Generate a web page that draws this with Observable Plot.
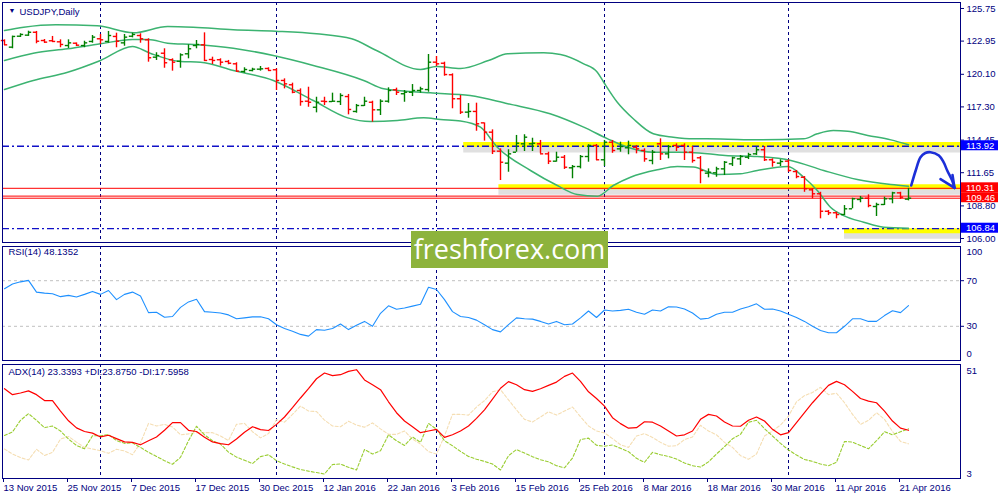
<!DOCTYPE html>
<html>
<head>
<meta charset="utf-8">
<script src="https://cdn.jsdelivr.net/npm/d3@7"></script>
<script src="https://cdn.jsdelivr.net/npm/@observablehq/plot@0.6"></script>
<style>
  body { margin: 0; background: #fff; }
  #chart { position: relative; width: 1000px; height: 500px; overflow: hidden; }
  #chart svg { position: absolute; left: 0; }
  .wm {
    position: absolute; left: 411px; top: 231px; width: 197px; height: 37px;
    background: #8db33c; color: #fff; text-align: center;
    font: 27px/36px "Open Sans", sans-serif;
  }
</style>
</head>
<body>
<div id="chart"></div>
<script>
// daily bars, 13 Nov 2015 .. 22 Apr 2016 (bar index 0..113)
var opens = [123.00,122.43,123.37,123.46,123.71,123.00,122.98,122.89,122.57,122.77,122.57,122.92,123.15,122.92,123.35,122.80,123.37,123.43,123.06,121.57,
  121.91,121.35,121.22,121.86,122.57,122.63,121.37,121.35,121.20,121.00,120.34,120.43,120.54,120.60,120.49,119.57,119.20,118.71,117.79,117.27,
  117.79,117.76,117.76,118.19,116.91,117.42,117.70,117.05,117.79,118.77,118.43,118.56,118.71,118.79,121.14,121.05,120.06,118.00,116.85,116.91,
  115.93,115.13,113.50,112.47,113.41,114.13,114.13,114.13,113.27,112.64,112.98,112.07,112.18,113.04,113.99,112.76,114.27,113.70,113.79,113.84,
  113.56,112.70,114.13,113.27,113.99,113.99,113.41,112.93,111.61,111.64,111.98,112.41,112.84,112.98,113.27,113.62,112.76,112.47,112.64,111.75,
  111.26,110.18,109.84,108.34,108.21,108.06,108.55,109.35,109.46,108.75,108.92,109.41,109.92,109.38];
var highs = [123.06,123.37,123.58,123.80,123.78,123.09,123.35,123.06,123.06,122.80,122.94,123.43,123.52,123.78,123.63,123.52,123.63,123.58,123.15,121.95,
  122.29,121.43,121.86,122.63,123.00,123.66,121.57,121.43,121.29,121.09,120.66,120.62,120.77,120.66,120.57,119.71,119.34,118.85,118.99,118.13,
  118.13,118.48,118.43,118.37,117.51,118.13,117.79,117.91,118.94,118.91,118.71,119.22,118.99,121.80,121.63,121.14,120.14,118.28,117.59,117.62,
  115.93,115.33,113.70,113.62,114.85,114.91,114.61,114.42,113.41,113.41,113.13,112.27,113.13,114.05,114.07,114.42,114.42,114.27,114.36,113.99,
  113.70,113.56,114.56,113.99,114.13,114.13,113.90,113.04,111.98,112.12,112.61,112.98,113.13,113.32,113.84,113.90,112.84,112.76,112.76,111.84,
  111.32,110.27,109.97,108.40,108.26,108.83,109.46,109.61,109.75,109.03,109.55,109.97,109.97,110.31];
var lows = [122.57,122.29,123.26,123.35,122.72,122.77,122.86,122.38,122.32,122.49,122.38,122.77,122.66,122.77,122.38,122.51,123.23,122.77,121.14,121.29,
  120.62,120.37,120.62,121.43,122.29,121.20,120.94,120.80,120.92,120.28,120.19,120.31,120.37,120.37,118.71,118.85,118.43,117.36,117.27,116.79,
  117.42,117.70,117.42,116.62,116.76,117.33,115.99,116.56,117.62,118.28,117.70,118.19,118.48,118.56,120.77,119.94,117.14,116.65,116.33,115.21,
  114.36,113.21,110.98,111.69,113.41,113.47,113.47,113.27,112.35,112.55,111.93,111.13,111.98,112.55,112.70,112.18,113.32,113.41,113.19,113.27,
  112.55,112.33,112.70,112.84,113.47,112.70,112.47,110.70,111.21,111.26,111.41,112.18,112.27,112.78,113.13,112.61,112.12,112.18,111.69,111.13,
  109.97,109.41,107.69,107.97,107.69,107.97,108.55,109.07,108.64,107.89,108.83,108.98,109.35,109.23];
var closes = [122.63,123.35,123.52,123.71,122.94,122.86,122.92,122.66,122.80,122.60,122.80,123.29,123.06,123.43,122.94,123.29,123.52,123.15,121.52,121.71,
  121.09,121.14,121.77,122.29,122.66,121.29,121.29,121.14,121.05,120.37,120.51,120.54,120.57,120.43,119.57,119.28,118.56,117.76,117.70,117.70,
  117.76,117.79,118.28,117.08,117.42,117.79,117.05,117.79,118.71,118.56,118.56,118.71,118.85,121.14,121.00,120.08,118.00,116.85,116.91,115.85,
  115.13,113.50,112.55,113.27,114.18,114.70,114.18,113.27,112.64,112.98,112.12,112.18,113.04,113.99,112.76,114.27,113.56,113.90,113.99,113.70,
  112.84,113.41,113.27,113.90,113.84,113.41,112.70,111.84,111.69,111.98,112.55,112.93,113.04,113.21,113.62,112.76,112.55,112.61,111.84,111.32,
  110.27,109.84,108.34,108.21,108.06,108.55,109.41,109.46,108.83,108.92,109.41,109.92,109.55,109.46];

// Bollinger bands (20) at these bar positions
var upperIdx = [0,2.4,6.4,11.6,16.1,20.4,23.6,28.6,33.9,39,43.4,46.5,52,54,57,60.5,62.9,67.4,69.5,72.4,74.1,74.9,76.6,78.6,81.1,83.6,86.1,89.5,94.1,99.9,101.6,103.6,105.4,107.9,110.8,113];
var upperVal = [123.86,124.14,124.35,124.26,123.66,124.20,124.14,123.92,123.80,123.58,123.15,122.14,120.51,120.77,120.60,121.28,121.86,121.95,121.80,121.00,120.28,119.42,117.70,116.28,114.99,114.70,114.56,114.55,114.47,114.56,114.99,115.27,115.21,114.85,114.47,114.05];
var midIdx = [0,3.6,7.9,12,16,18,20.4,23.6,28.6,33.6,38.6,44.9,47.4,53.2,58.2,62.9,68.2,72.4,75.4,77.9,81.1,85.8,90.1,94.1,98.3,102.4,106.6,110.8,113];
var midVal = [121.29,121.91,122.29,122.72,123.09,123.09,122.77,122.66,122.34,121.71,120.86,119.57,118.85,118.51,118.28,117.57,116.71,115.56,114.56,113.84,113.41,113.39,113.13,113.04,112.70,111.84,111.07,110.64,110.49];
var lowerIdx = [0,3.6,7.9,12,16,18.2,22,24.5,28.6,33.6,38.6,42.9,45.75,49.1,52.4,54.5,57,59.5,61.6,65.75,69.1,71.6,74.1,76.1,78.25,81.6,84.1,86.1,89.1,92,94.1,97.9,99.9,101.6,103.25,104.9,107.4,109.9,113];
var lowerVal = [118.79,119.57,120.28,121.29,122.49,121.91,121.20,121.14,120.43,119.57,117.85,116.36,116.05,116.13,116.36,116.22,116.09,115.56,113.84,111.84,110.55,109.78,109.63,110.55,111.26,111.90,112.18,112.14,111.50,111.56,111.84,112.18,111.26,110.12,108.69,107.97,107.40,106.97,106.88];

var rsi = [62.9,67.1,69.0,70.3,60.0,59.1,58.6,56.0,57.1,55.7,58.0,60.6,58.0,61.4,53.4,58.0,60.0,56.6,42.0,42.3,
  38.0,38.6,46.6,51.4,53.7,42.9,42.3,41.7,40.0,36.6,37.4,38.3,38.3,36.6,31.4,28.0,25.7,22.9,21.4,27.1,
  26.6,28.0,32.0,27.1,30.9,34.3,30.0,41.4,48.0,44.9,46.0,47.7,49.4,64.3,62.3,53.4,42.9,38.6,37.7,35.4,
  31.4,27.1,25.1,31.4,37.4,36.6,36.3,34.3,32.0,34.3,31.4,32.0,37.4,43.4,37.7,44.3,43.4,44.0,44.9,42.3,
  40.6,44.3,43.4,47.1,46.9,45.1,41.7,36.3,37.1,40.6,42.3,42.3,45.1,47.1,49.7,44.9,45.1,43.4,40.6,37.7,
  34.3,30.0,26.3,24.3,24.3,30.0,36.6,36.6,34.3,34.3,39.4,43.7,42.0,48.1];
var rsiLevels = [70, 30];

var adx = [40.8,38.3,39.0,39.9,38.3,35.8,35.8,31.4,27.3,24.3,22.8,22.1,20.5,21.2,19.8,18.4,18.2,17.2,18.9,20.5,
  23.3,26.5,26.5,23.3,22.8,20.4,18.4,17.7,17.2,19.6,22.5,24.8,23.6,23.2,25.8,28.9,32.8,36.9,40.8,45.0,
  47.4,46.3,46.7,48.1,48.8,44.5,42.5,40.4,35.3,30.7,27.2,24.8,22.3,23.0,23.7,20.3,21.4,23.0,25.1,28.3,
  31.9,36.4,41.0,43.8,42.5,40.4,39.7,40.8,42.2,43.6,46.0,47.4,43.9,39.5,36.7,33.5,28.6,26.1,24.2,24.4,
  26.9,26.7,25.1,23.0,20.9,21.4,23.0,27.9,30.0,29.3,26.8,25.1,25.0,27.5,28.9,27.2,23.7,21.4,22.3,26.5,
  30.7,34.9,38.6,42.2,43.9,42.5,39.7,36.7,35.6,34.9,31.4,27.2,24.2,23.3];
var plusDI = [21.1,22.6,27.5,30.3,27.5,24.4,25.1,23.0,19.6,16.9,15.5,21.0,21.0,21.5,19.0,17.8,18.0,16.1,14.0,12.3,
  10.5,9.0,11.9,18.9,25.0,21.4,18.9,17.5,14.1,12.0,10.7,9.3,12.2,13.0,10.5,9.1,7.9,6.8,6.1,5.5,
  4.9,8.9,9.1,7.7,6.6,15.2,13.3,14.7,21.4,18.9,16.9,20.5,18.2,26.2,23.7,18.9,16.8,14.4,12.3,11.1,
  10.2,9.1,6.6,12.6,15.2,13.7,12.2,10.9,10.0,8.4,7.5,11.6,19.4,20.0,17.0,16.6,17.1,15.7,14.3,11.5,
  9.8,14.0,13.0,12.3,11.2,9.5,8.4,7.8,10.0,13.3,16.4,19.7,21.6,26.7,27.5,24.0,20.9,17.8,15.0,12.9,
  11.0,10.2,9.1,8.4,9.8,18.6,18.3,16.9,15.5,18.9,22.7,21.4,22.7,23.9];
var minusDI = [15.4,13.3,11.8,10.8,15.3,12.7,14.0,19.6,20.7,18.3,16.1,15.4,14.7,13.6,15.3,14.6,13.0,18.0,26.2,25.1,
  25.8,24.7,21.4,21.8,22.3,22.3,22.3,20.9,19.0,25.8,26.2,22.7,20.1,21.9,27.8,26.7,30.0,33.5,31.4,31.2,
  27.6,25.1,24.8,27.1,25.5,24.6,26.4,23.9,21.6,21.6,23.0,19.6,17.5,14.3,13.3,20.9,30.0,30.0,29.7,33.1,
  35.8,39.5,40.4,36.1,31.9,27.9,26.8,28.9,31.1,29.7,31.4,33.1,29.0,25.1,23.0,22.2,19.8,17.2,16.1,20.9,
  21.9,20.3,18.2,16.6,16.8,19.4,20.5,25.4,23.0,21.4,18.2,16.1,12.6,11.1,13.3,20.9,23.0,25.5,29.3,35.3,
  37.9,39.2,41.4,38.3,38.9,34.9,30.0,25.8,27.5,30.7,27.9,22.8,18.6,17.6];

// first bar of each month (period separators)
var monthStarts = [12, 34, 54, 75, 98];
var dateTicks = [0, 8, 16, 24, 32, 40, 48, 56, 64, 72, 80, 88, 96, 104, 112];
var dateLabels = ["13 Nov 2015", "25 Nov 2015", "7 Dec 2015", "17 Dec 2015", "30 Dec 2015", "12 Jan 2016", "22 Jan 2016",
  "3 Feb 2016", "15 Feb 2016", "25 Feb 2016", "8 Mar 2016", "18 Mar 2016", "30 Mar 2016", "11 Apr 2016", "21 Apr 2016"];
var priceTicks = [125.75, 122.95, 120.10, 117.30, 114.45, 111.65, 108.80, 106.00];

// drawn levels
var blueLevels = [113.92, 106.84];
var redLevels = [110.31, 109.64, 109.46];
var yellowLevels = [114.08, 110.45, 106.66];
var yellowFrom = [57.4, 61.8, 105];
var tagValues = [113.92, 110.31, 109.46, 106.84];

// hand-drawn forecast arrow: stroke, then the two wings of its head
var arrowIdx = [113.34, 113.9, 114.5, 115.1, 115.75, 116.8, 117.4, 117.84, 118.46, 118.75];
var arrowPx = [110.55, 111.84, 112.98, 113.34, 113.41, 113.13, 112.53, 111.84, 110.98, 110.35];
var wingIdx = [117.0, 118.5];
var wingPx = [111.09, 111.45];

var navy = "#000080";
var upColor = "#008000", downColor = "#ff0000", bandColor = "#3cb371", penColor = "#1c2fd8";
var xDomain = [-0.25, 119.5];
var fontFamily = "Liberation Sans, Arial, sans-serif";
var font = {fontFamily: fontFamily, fontSize: "9.5px", color: navy, background: "transparent", overflow: "visible"};

var bars = opens.map(function (o, i) {
  return {i: i, o: o, h: highs[i], l: lows[i], c: closes[i]};
});
var up = bars.filter(d => d.c >= d.o);
var down = bars.filter(d => d.c < d.o);
var pairs = (xs, ys) => xs.map((x, i) => [x, ys[i]]);
var tipI = arrowIdx[arrowIdx.length - 1], tipP = arrowPx[arrowPx.length - 1];

function ohlc(data, color) {
  return [
    Plot.ruleX(data, {x: "i", y1: "l", y2: "h", stroke: color, strokeWidth: 1.4}),
    Plot.ruleY(data, {y: "o", x1: d => d.i - 0.4, x2: "i", stroke: color, strokeWidth: 1.4}),
    Plot.ruleY(data, {y: "c", x1: "i", x2: d => d.i + 0.4, stroke: color, strokeWidth: 1.4})
  ];
}

var main = Plot.plot({
  width: 1000, height: 244,
  marginLeft: 2, marginRight: 40, marginTop: 2, marginBottom: 2,
  style: font,
  x: {domain: xDomain, axis: null},
  y: {domain: [105.657, 126.265], axis: null},
  marks: [
    Plot.ruleX(monthStarts, {stroke: navy, strokeDasharray: "3,3"}),
    Plot.ruleY(yellowLevels, {y: d => d, x1: (d, i) => yellowFrom[i], x2: xDomain[1], stroke: "#555", strokeOpacity: 0.18, strokeWidth: 6, dy: 5}),
    Plot.ruleY(yellowLevels, {y: d => d, x1: (d, i) => yellowFrom[i], x2: xDomain[1], stroke: "#ffff00", strokeWidth: 5}),
    Plot.ruleY(redLevels, {stroke: "#ff0000", strokeWidth: 1}),
    Plot.ruleY(blueLevels, {stroke: "#1010c8", strokeWidth: 1.3, strokeDasharray: "7,3,2,3"}),
    Plot.line(pairs(upperIdx, upperVal), {stroke: bandColor, curve: "monotone-x"}),
    Plot.line(pairs(midIdx, midVal), {stroke: bandColor, curve: "monotone-x"}),
    Plot.line(pairs(lowerIdx, lowerVal), {stroke: bandColor, curve: "monotone-x"}),
    ...ohlc(up, upColor),
    ...ohlc(down, downColor),
    Plot.line(pairs(arrowIdx, arrowPx), {stroke: penColor, strokeWidth: 2.6, curve: "catmull-rom", strokeLinecap: "round"}),
    Plot.link(pairs(wingIdx, wingPx), {
      x1: d => d[0], y1: d => d[1], x2: () => tipI, y2: () => tipP,
      stroke: penColor, strokeWidth: 2.6, strokeLinecap: "round"
    }),
    Plot.frame({stroke: navy}),
    Plot.axisY({anchor: "right", ticks: priceTicks, tickFormat: d => d.toFixed(2), tickSize: 3, tickPadding: 3, color: navy}),
    Plot.text(["\u25BC"], {frameAnchor: "top-left", dx: 6, dy: 8, fontSize: 7, fill: navy, textAnchor: "start", lineAnchor: "middle"}),
    Plot.text(["USDJPY,Daily"], {frameAnchor: "top-left", dx: 17, dy: 9, fill: navy, textAnchor: "start", lineAnchor: "middle"})
  ]
});
main.style.top = "0px";

// price tags on the right axis
var ys = main.scale("y");
var tags = d3.select(main).append("g")
  .attr("font-family", fontFamily).attr("font-size", "9.5px").attr("text-anchor", "start");
tagValues.forEach(function (v) {
  var isBlue = blueLevels.indexOf(v) >= 0;
  var y = ys.apply(v) - 0.5;
  tags.append("rect").attr("x", 961).attr("y", y - 5).attr("width", 37).attr("height", 10)
    .attr("fill", isBlue ? "#0000ff" : "#ff0000");
  tags.append("text").attr("x", 966).attr("y", y).attr("dy", "0.35em").attr("fill", "#fff").text(v.toFixed(2));
});

var rsiChart = Plot.plot({
  width: 1000, height: 118,
  marginLeft: 2, marginRight: 40, marginTop: 2, marginBottom: 2,
  style: font,
  x: {domain: xDomain, axis: null},
  y: {domain: [0, 100], axis: null},
  marks: [
    Plot.ruleX(monthStarts, {stroke: navy, strokeDasharray: "3,3"}),
    Plot.ruleY(rsiLevels, {stroke: "#c0c0c0", strokeDasharray: "3,3"}),
    Plot.lineY(rsi, {stroke: "#1e90ff", strokeWidth: 1.1}),
    Plot.frame({stroke: navy}),
    Plot.axisY({anchor: "right", ticks: rsiLevels, tickSize: 3, tickPadding: 3, color: navy}),
    Plot.text([100], {y: d => d, text: d => String(d), frameAnchor: "right", dx: 6, dy: 5, textAnchor: "start", fill: navy}),
    Plot.text([0], {y: d => d, text: d => String(d), frameAnchor: "right", dx: 6, dy: -7, textAnchor: "start", fill: navy}),
    Plot.text(["RSI(14) 48.1352"], {frameAnchor: "top-left", dx: 6, dy: 5, fill: navy, textAnchor: "start", lineAnchor: "middle"})
  ]
});
rsiChart.style.top = "244px";

var adxChart = Plot.plot({
  width: 1000, height: 138,
  marginLeft: 2, marginRight: 40, marginTop: 2, marginBottom: 22,
  style: font,
  x: {domain: xDomain, axis: null},
  y: {domain: [3, 51], axis: null},
  marks: [
    Plot.ruleX(monthStarts, {stroke: navy, strokeDasharray: "3,3"}),
    Plot.lineY(minusDI, {stroke: "#f5deb3", strokeWidth: 1.1, strokeDasharray: "3,2"}),
    Plot.lineY(plusDI, {stroke: "#9acd32", strokeWidth: 1.1, strokeDasharray: "3,2"}),
    Plot.lineY(adx, {stroke: "#ff0000", strokeWidth: 1.2}),
    Plot.frame({stroke: navy}),
    Plot.axisX({ticks: dateTicks, tickFormat: d => dateLabels[dateTicks.indexOf(d)], tickSize: 4, tickPadding: 2,
      textAnchor: "start", dx: -1, color: navy}),
    Plot.text([51], {y: d => d, text: d => String(d), frameAnchor: "right", dx: 6, dy: 6, textAnchor: "start", fill: navy}),
    Plot.text([3], {y: d => d, text: d => String(d), frameAnchor: "right", dx: 6, dy: -5, textAnchor: "start", fill: navy}),
    Plot.text(["ADX(14) 23.3393 +DI:23.8750 -DI:17.5958"], {frameAnchor: "top-left", dx: 6, dy: 7, fill: navy, textAnchor: "start", lineAnchor: "middle"})
  ]
});
adxChart.style.top = "362px";

var chart = document.getElementById("chart");
chart.append(main, rsiChart, adxChart);
var wm = document.createElement("div");
wm.className = "wm";
wm.textContent = "freshforex.com";
chart.append(wm);
</script>
</body>
</html>
